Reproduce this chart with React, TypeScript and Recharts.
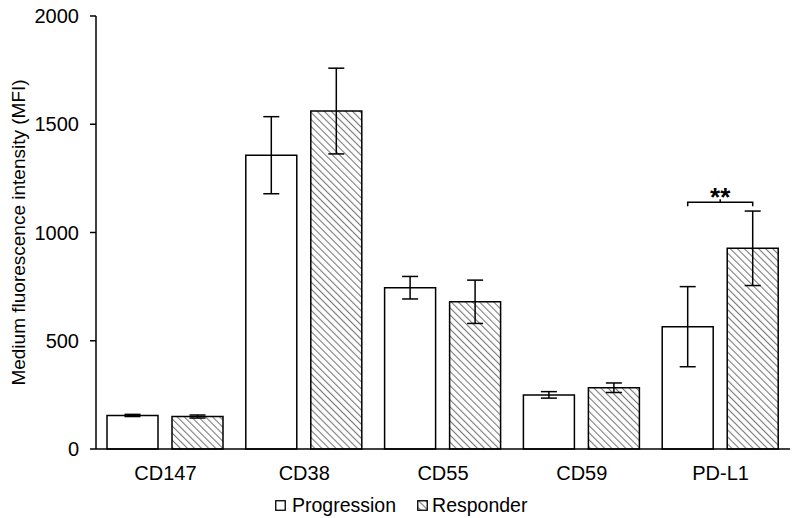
import React from 'react';
import {BarChart, Bar, XAxis, YAxis, ErrorBar, Legend, LabelList, Label} from 'recharts';

const categories = ['CD147', 'CD38', 'CD55', 'CD59', 'PD-L1'];
const progression = [155, 1357, 745, 250, 565];
const responder = [150, 1561, 680, 283, 927];
const progressionErr = [[5, 5], [178, 178], [52, 52], [15, 15], [185, 185]];
const responderErr = [[7, 7], [198, 198], [100, 100], [22, 22], [172, 172]];
const yTicks = [0, 500, 1000, 1500, 2000];
const sigBracket = 1140;

const data = categories.map((name, i) => ({
    name,
    progression: progression[i],
    responder: responder[i],
    progressionErr: progressionErr[i],
    responderErr: responderErr[i],
}));

const font = 'Arial, "Liberation Sans", sans-serif';

// bracket with ** over the PD-L1 pair, placed from the responder bar geometry
const SigLabel = (props: any) => {
    const {x, y, width, height, value, index} = props;
    if (categories[index] !== 'PD-L1') return null;
    const base = y + height;
    const by = base - (sigBracket * height) / value;
    const gap = 14;
    const x2 = x + width / 2;
    const x1 = x - gap - width / 2;
    const mid = (x1 + x2) / 2;
    return (
        <g>
            <path d={`M${x1},${by + 4} L${x1},${by} L${x2},${by} L${x2},${by + 4} M${mid},${by} L${mid},${by - 3}`} stroke="#000" strokeWidth={1.5} fill="none"/>
            <text x={mid} y={by + 4} textAnchor="middle" fontFamily={font} fontWeight="bold" fontSize={26}>**</text>
        </g>
    );
};

const LegendContent = () => (
    <div style={{display: 'flex', paddingLeft: 275, fontFamily: font, fontSize: 19.5, lineHeight: '23px', color: '#000'}}>
        <span style={{display: 'flex', alignItems: 'center', marginRight: 21}}>
            <svg width={11} height={11} style={{marginRight: 6}}>
                <rect x={0.75} y={0.75} width={9.5} height={9.5} fill="#fff" stroke="#000" strokeWidth={1.3}/>
            </svg>
            Progression
        </span>
        <span style={{display: 'flex', alignItems: 'center'}}>
            <svg width={11} height={11} style={{marginRight: 4}}>
                <rect x={0.75} y={0.75} width={9.5} height={9.5} fill="url(#hatch)" stroke="#000" strokeWidth={1.3}/>
            </svg>
            Responder
        </span>
    </div>
);

const App = () => {
    return (
        <div style={{position: 'absolute', left: 0, top: 0, background: '#fff'}}>
            <svg width={0} height={0} style={{position: 'absolute'}}>
                <defs>
                    <pattern id="hatch" width={5} height={5} patternUnits="userSpaceOnUse" patternTransform="rotate(-45)">
                        <rect width={5} height={5} fill="#fff"/>
                        <line x1={0} y1={0} x2={0} y2={5} stroke="#7a7a7a" strokeWidth={2.2}/>
                    </pattern>
                </defs>
            </svg>
            <BarChart
                width={796}
                height={518}
                data={data}
                margin={{top: 16, right: 6, bottom: 15, left: 36}}
                barCategoryGap={11}
                barGap={14}
            >
                <XAxis
                    dataKey="name"
                    tickLine={false}
                    axisLine={{stroke: '#000', strokeWidth: 1.5}}
                    height={30}
                    tickSize={6}
                    tick={{fill: '#000', fontSize: 20, fontFamily: font}}
                    tickMargin={11}
                />
                <YAxis
                    width={60}
                    domain={[0, 2000]}
                    ticks={yTicks}
                    axisLine={{stroke: '#000', strokeWidth: 1.5}}
                    tickLine={{stroke: '#000', strokeWidth: 1.5}}
                    tickSize={6}
                    tick={{fill: '#000', fontSize: 20, fontFamily: font}}
                    tickMargin={11}
                >
                    <Label
                        value="Medium fluorescence intensity (MFI)"
                        angle={-90}
                        position="insideLeft"
                        offset={-18}
                        style={{textAnchor: 'middle', fontSize: 19, fontFamily: font, fill: '#000'}}
                    />
                </YAxis>
                <Legend
                    verticalAlign="bottom"
                    height={24}
                    content={<LegendContent/>}
                    wrapperStyle={{top: 494, left: 0, width: 796}}
                />
                <Bar dataKey="progression" name="Progression" fill="#fff" stroke="#000" strokeWidth={1.5} isAnimationActive={false}>
                    <ErrorBar dataKey="progressionErr" width={8} stroke="#000" strokeWidth={1.5} isAnimationActive={false}/>
                </Bar>
                <Bar dataKey="responder" name="Responder" fill="url(#hatch)" stroke="#000" strokeWidth={1.5} isAnimationActive={false}>
                    <ErrorBar dataKey="responderErr" width={8} stroke="#000" strokeWidth={1.5} isAnimationActive={false}/>
                    <LabelList dataKey="responder" content={<SigLabel/>}/>
                </Bar>
            </BarChart>
        </div>
    );
};

export default App;
